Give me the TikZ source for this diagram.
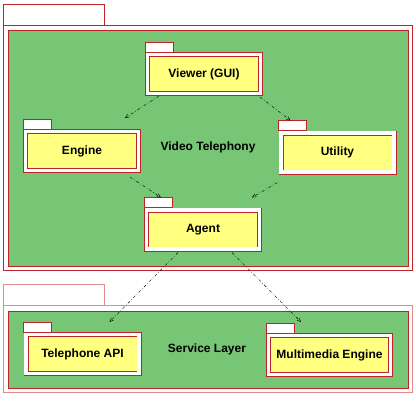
\documentclass[tikz,border=0pt]{standalone}
\usepackage{fontspec}
\setmainfont{Liberation Sans}
\usetikzlibrary{arrows}

\definecolor{pkggreen}{RGB}{118,198,118}
\definecolor{pkgyellow}{RGB}{255,255,128}
\definecolor{pkgred}{RGB}{190,35,40}
\definecolor{palered}{RGB}{225,140,140}

\begin{document}
\begin{tikzpicture}[x=1pt, y=-1pt, ->, >=angle 45, semithick, font=\fontsize{12}{14}\bfseries]
 % Define block styles
	\tikzstyle{pkg} = [rectangle, draw=pkgred, line width=0.9pt, double=white, double distance=3.2pt, fill=pkgyellow, minimum width=113pt, minimum height=39pt, inner sep=0pt, outer sep=2.5pt, text centered]
	\tikzstyle{tab} = [rectangle, draw=pkgred, thin, fill=white, minimum width=28pt, minimum height=10pt, inner sep=0pt, outer sep=0pt, anchor=south west]
	\tikzstyle{bigbox} = [rectangle, draw=pkgred, thin, fill=white, inner sep=0pt, outer sep=0pt]
	\tikzstyle{bigarea} = [rectangle, draw=pkgred, thin, fill=pkggreen, inner sep=0pt]
	\tikzstyle{bigtab} = [rectangle, draw=pkgred, thin, fill=white, minimum width=101pt, minimum height=21pt, inner sep=0pt, anchor=south west]
	\tikzstyle{dep} = [draw, ->, black, thin, dash pattern=on 3pt off 2pt on 0.6pt off 2pt]
	\useasboundingbox (0,0) rectangle (416,400);
%%====Package Video Telephony===============================================================
	\node	[bigbox, minimum width=409pt, minimum height=245pt]	(vtbox)	at (207.5,147.5)	{};
	\node	[bigtab]	(vttab)	at (vtbox.north west)	{};
	\node	[bigarea, minimum width=400pt, minimum height=236pt]	(vtarea)	at (208,148)	{};
	\node	(vtlabel)	at (208,147)	{Video Telephony};
%%====Package Service Layer=================================================================
	\node	[bigbox, draw=palered, minimum width=409pt, minimum height=87pt]	(slbox)	at (207.5,348.5)	{};
	\node	[bigtab, draw=palered]	(sltab)	at (slbox.north west)	{};
	\node	[bigarea, minimum width=400pt, minimum height=77pt]	(slarea)	at (208,349.5)	{};
	\node	(sllabel)	at (207,349)	{Service Layer};
%%====Packages================================================================================
	\node	[pkg]	(viewer)	at (204,74)		{Viewer (GUI)};
	\node	[tab]	(viewertab)	at (viewer.north west)	{};
	\node	[pkg]	(engine)	at (82,151)		{Engine};
	\node	[tab]	(enginetab)	at (engine.north west)	{};
	\node	[pkg]	(utility)	at (337.5,152.5)	{Utility};
	\node	[tab]	(utilitytab)	at (utility.north west)	{};
	\node	[pkg]	(agent)		at (203,229.5)	{Agent};
	\node	[tab]	(agenttab)	at (agent.north west)	{};
	\node	[pkg]	(telapi)	at (82.5,354)	{Telephone API};
	\node	[tab]	(telapitab)	at (telapi.north west)	{};
	\node	[pkg, minimum width=122pt]	(mmengine)	at (329.5,355)	{Multimedia Engine};
	\node	[tab]	(mmenginetab)	at (mmengine.north west)	{};
%%====Dependencies============================================================================
	\path [dep] ([xshift=14pt]viewer.south west) -- ([xshift=-16pt, yshift=11pt]engine.north east);
	\path [dep] ([xshift=-3pt, yshift=-1pt]viewer.south east) -- ([xshift=12pt, yshift=10pt]utility.north west);
	\path [dep] ([xshift=-11pt, yshift=-4pt]engine.south east) -- ([xshift=17pt, yshift=10pt]agent.north west);
	\path [dep] ([xshift=-1pt, yshift=-8pt]utility.south west) -- ([xshift=-10pt, yshift=10pt]agent.north east);
	\path [dep] ([xshift=34pt, yshift=-1pt]agent.south west) -- ([xshift=-32pt, yshift=10pt]telapi.north east);
	\path [dep] ([xshift=-30pt, yshift=-1pt]agent.south east) -- ([xshift=35pt, yshift=11pt]mmengine.north west);
\end{tikzpicture}
\end{document}
